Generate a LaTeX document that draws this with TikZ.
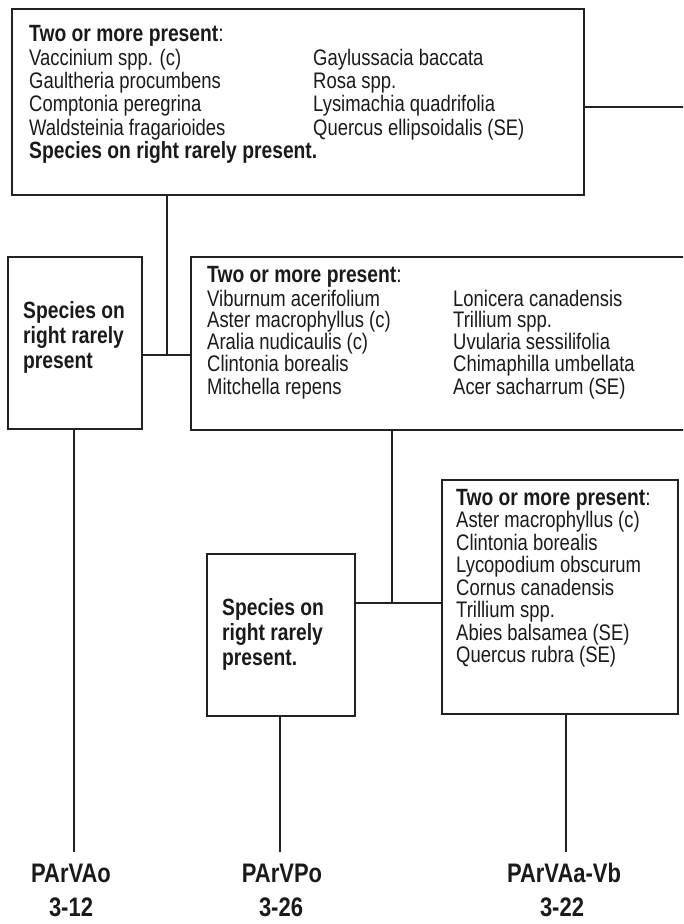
\documentclass[tikz,border=0pt]{standalone}
\usepackage{fontspec}
\setmainfont[FakeStretch=0.82]{Liberation Sans}
\definecolor{linec}{HTML}{222222}
\definecolor{textc}{HTML}{1A1A1A}
\begin{document}
\begin{tikzpicture}[x=1pt,y=-1pt,
  box/.style={draw=linec, line width=1.5pt, inner sep=0, anchor=north west},
  conn/.style={draw=linec, line width=1.5pt},
  txt/.style={anchor=base west, inner sep=0, text=textc, font=\fontsize{22.5}{26}\selectfont},
  hd/.style={anchor=base west, inner sep=0, text=textc, font=\fontsize{23.5}{27}\selectfont\bfseries},
  lbl/.style={anchor=base, inner sep=0, text=textc, font=\fontsize{26.8}{30}\selectfont\bfseries}]
\useasboundingbox (0,0) rectangle (683,924);
\clip (0,0) rectangle (683,924);

% boxes
\node[box, minimum width=572pt, minimum height=186pt] (b1) at (11,8) {};
\node[box, minimum width=134pt, minimum height=172pt] (b2) at (7,256) {};
\node[box, minimum width=530pt, minimum height=173pt] (b3) at (190,256) {};
\node[box, minimum width=236pt, minimum height=234pt] (b4) at (441,479) {};
\node[box, minimum width=148pt, minimum height=162pt] (b5) at (206,553) {};

% first couplet
\node[hd] (t1) at (29,41) {Two or more present\textmd{:}};
\node[txt] at (29,65) {Vaccinium spp. (c)};
\node[txt] at (29,88) {Gaultheria procumbens};
\node[txt] at (29,111) {Comptonia peregrina};
\node[txt] at (29,135) {Waldsteinia fragarioides};
\node[txt] at (313,65) {Gaylussacia baccata};
\node[txt] at (313,88) {Rosa spp.};
\node[txt] at (313,111) {Lysimachia quadrifolia};
\node[txt] at (313,135) {Quercus ellipsoidalis (SE)};
\node[hd] at (29,158) {Species on right rarely present.};

% second couplet
\node[hd] at (23,318) {Species on};
\node[hd] at (23,343) {right rarely};
\node[hd] at (23,368) {present};

\node[hd] at (207,282) {Two or more present\textmd{:}};
\node[txt] at (207,306) {Viburnum acerifolium};
\node[txt] at (207,327) {Aster macrophyllus (c)};
\node[txt] at (207,349) {Aralia nudicaulis (c)};
\node[txt] at (207,371) {Clintonia borealis};
\node[txt] at (207,394) {Mitchella repens};
\node[txt] at (453,306) {Lonicera canadensis};
\node[txt] at (453,327) {Trillium spp.};
\node[txt] at (453,349) {Uvularia sessilifolia};
\node[txt] at (453,371) {Chimaphilla umbellata};
\node[txt] at (453,394) {Acer sacharrum (SE)};

% third couplet
\node[hd] at (222,615) {Species on};
\node[hd] at (222,640) {right rarely};
\node[hd] at (222,665) {present.};

\node[hd] at (456,505) {Two or more present\textmd{:}};
\node[txt] at (456,527) {Aster macrophyllus (c)};
\node[txt] at (456,550) {Clintonia borealis};
\node[txt] at (456,572) {Lycopodium obscurum};
\node[txt] at (456,595) {Cornus canadensis};
\node[txt] at (456,617) {Trillium spp.};
\node[txt] at (456,640) {Abies balsamea (SE)};
\node[txt] at (456,662) {Quercus rubra (SE)};

% end points and type labels
\coordinate (out1) at (700,107);
\coordinate (j1) at (167,355);
\coordinate (j2) at (392,603);
\coordinate (e1) at (74,852);
\coordinate (e2) at (280,852);
\coordinate (e3) at (566,852);
\node[lbl] (l1) at (71,882) {PArVAo};
\node[lbl] (n1) at (71,916) {3-12};
\node[lbl] (l2) at (282,882) {PArVPo};
\node[lbl] (n2) at (281,916) {3-26};
\node[lbl] (l3) at (564,882) {PArVAa-Vb};
\node[lbl] (n3) at (562,916) {3-22};

% connectors
\draw[conn] (b1.east |- out1) -- (out1);
\draw[conn] (b1.south -| j1) -- (j1);
\draw[conn] (b2.east |- j1) -- (b3.west |- j1);
\draw[conn] (b3.south -| j2) -- (j2);
\draw[conn] (b5.east |- j2) -- (b4.west |- j2);
\draw[conn] (b2.south -| e1) -- (e1);
\draw[conn] (b5.south -| e2) -- (e2);
\draw[conn] (b4.south -| e3) -- (e3);
\end{tikzpicture}
\end{document}
